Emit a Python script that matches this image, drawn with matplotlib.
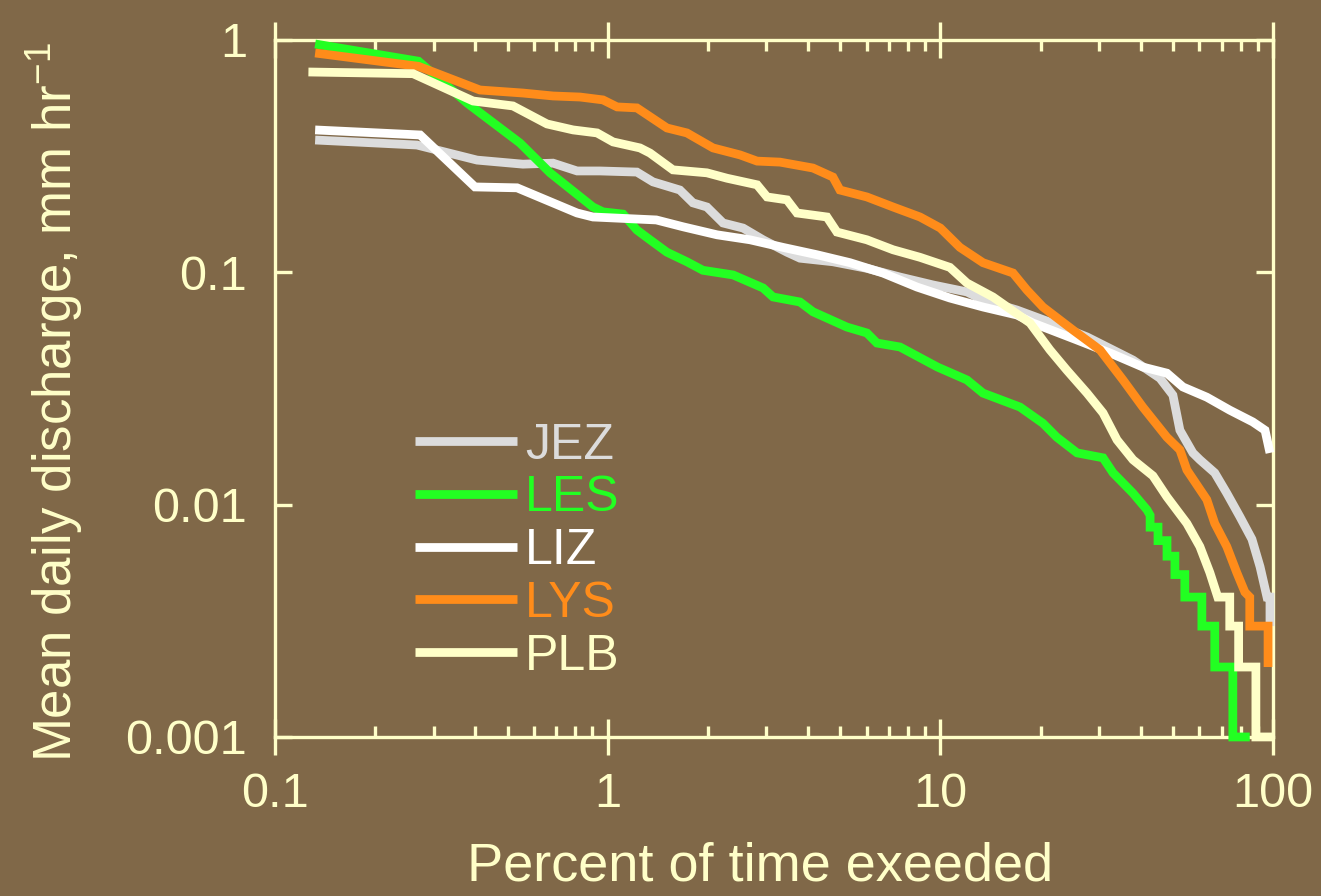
import matplotlib
matplotlib.use('Agg')
import matplotlib.pyplot as plt
from matplotlib.ticker import NullLocator, NullFormatter

plt.rcParams['font.family'] = ['Liberation Sans', 'DejaVu Sans']
plt.rcParams['mathtext.default'] = 'regular'

BG = '#806848'
CREAM = '#FFFFC8'

# percent of time exceeded / mean daily discharge (mm/hr)
jez_x = [0.132, 0.267, 0.405, 0.556, 0.685, 0.809, 0.948, 1.224, 1.368, 1.648, 1.804, 1.987, 2.222,
         2.553, 2.931, 3.459, 3.784, 4.753, 6.013, 7.56, 9.506, 12.02, 13.43, 16.99, 21.33, 27.59,
         37.93, 45.71, 50.0, 52.48, 57.41, 60.26, 66.8, 72.6, 79.4, 86.4, 91.4, 95.9, 97.9, 97.9]
jez_y = [0.371, 0.353, 0.304, 0.292, 0.295, 0.273, 0.273, 0.270, 0.245, 0.226, 0.199, 0.191, 0.163,
         0.155, 0.138, 0.122, 0.115, 0.111, 0.104, 0.0954, 0.0882, 0.0823, 0.076, 0.0688, 0.061, 0.0527,
         0.0419, 0.0350, 0.0296, 0.0209, 0.0167, 0.0156, 0.0137, 0.0112, 0.0089, 0.0071, 0.0054,
         0.0040, 0.0040, 0.0030]

les_x = [0.132, 0.27, 0.378, 0.545, 0.671, 0.903, 0.968, 1.112, 1.224, 1.34, 1.507, 1.73, 1.933,
         2.382, 2.931, 3.141, 3.784, 4.141, 5.238, 6.013, 6.446, 7.56, 9.8, 12.02, 13.43, 17.35,
         20.33, 22.39, 25.76, 30.83, 33.04, 37.93, 41.78, 42.7, 42.7, 45.1, 45.1, 48.0, 48.0, 50.7,
         50.7, 54.3, 54.3, 61.1, 61.1, 66.8, 66.8, 75.7, 75.7, 85.1]
les_y = [0.961, 0.81, 0.535, 0.360, 0.268, 0.191, 0.182, 0.178, 0.152, 0.138, 0.122, 0.111, 0.102,
         0.0974, 0.0856, 0.0783, 0.0745, 0.0676, 0.0581, 0.0548, 0.0496, 0.0477, 0.0391, 0.0344,
         0.0302, 0.0263, 0.0224, 0.0195, 0.0167, 0.0159, 0.0137, 0.0112, 0.0095, 0.009, 0.008,
         0.008, 0.007, 0.007, 0.006, 0.006, 0.005, 0.005, 0.004, 0.004, 0.003, 0.003, 0.002,
         0.002, 0.001, 0.001]

liz_x = [0.132, 0.273, 0.399, 0.534, 0.809, 0.903, 1.4, 1.684, 2.131, 2.679, 3.365, 4.256, 5.346,
         6.715, 8.505, 10.68, 13.43, 16.99, 18.97, 25.76, 32.3, 40.6, 47.97, 53.58, 63.24, 74.13,
         86.9, 94.6, 97.9]
liz_y = [0.410, 0.390, 0.233, 0.231, 0.180, 0.173, 0.168, 0.157, 0.145, 0.138, 0.128, 0.119, 0.110,
         0.0993, 0.0864, 0.0775, 0.0709, 0.0655, 0.0605, 0.0511, 0.045, 0.0391, 0.0368, 0.0321,
         0.029, 0.0255, 0.0227, 0.0209, 0.0167]

lys_x = [0.132, 0.27, 0.413, 0.556, 0.685, 0.826, 0.968, 1.067, 1.224, 1.507, 1.73, 2.073, 2.5,
         2.812, 3.296, 4.141, 4.753, 4.99, 6.013, 7.208, 8.685, 10.0, 11.45, 13.43, 16.53, 18.2,
         20.33, 25.05, 30.2, 35.4, 40.6, 47.97, 52.48, 55.08, 63.24, 66.8, 72.6, 77.8, 82.3, 85.1,
         85.1, 96.6, 96.6]
lys_y = [0.879, 0.77, 0.609, 0.591, 0.574, 0.568, 0.552, 0.515, 0.510, 0.418, 0.398, 0.343, 0.320,
         0.301, 0.298, 0.281, 0.257, 0.226, 0.211, 0.191, 0.173, 0.155, 0.128, 0.110, 0.0993,
         0.0839, 0.0709, 0.0564, 0.0463, 0.0344, 0.0263, 0.0195, 0.0172, 0.0141, 0.0105, 0.0083,
         0.0066, 0.0051, 0.0042, 0.004, 0.003, 0.003, 0.002]

plb_x = [0.126, 0.26, 0.394, 0.519, 0.657, 0.787, 0.929, 1.038, 1.25, 1.34, 1.571, 1.987, 2.284,
         2.812, 3.013, 3.459, 3.707, 4.561, 4.887, 6.013, 7.208, 8.685, 10.68, 12.02, 14.39, 18.6,
         21.33, 24.0, 27.59, 30.83, 33.96, 37.93, 43.55, 47.97, 55.08, 60.26, 64.57, 68.2, 74.1,
         74.1, 78.8, 78.8, 88.8, 88.8, 100]
plb_y = [0.728, 0.716, 0.546, 0.520, 0.435, 0.410, 0.398, 0.364, 0.343, 0.326, 0.276, 0.268, 0.254,
         0.238, 0.211, 0.205, 0.180, 0.173, 0.149, 0.138, 0.125, 0.116, 0.105, 0.0899, 0.0783,
         0.0605, 0.0464, 0.0379, 0.0302, 0.0248, 0.019, 0.0156, 0.0133, 0.0108, 0.0083, 0.0066,
         0.0051, 0.004, 0.004, 0.003, 0.003, 0.002, 0.002, 0.001, 0.001]

sites = ['JEZ', 'LES', 'LIZ', 'LYS', 'PLB']
colors = ['#DCDCDC', '#22FF22', '#FFFFFF', '#FF8C1A', CREAM]
xs = [jez_x, les_x, liz_x, lys_x, plb_x]
ys = [jez_y, les_y, liz_y, lys_y, plb_y]

x_ticks = [0.1, 1, 10, 100]
x_labels = ['0.1', '1', '10', '100']
y_ticks = [0.001, 0.01, 0.1, 1]
y_labels = ['0.001', '0.01', '0.1', '1']

fig = plt.figure(figsize=(13.21, 8.96), dpi=100, facecolor=BG)
ax = fig.add_axes([0.2082, 0.1775, 0.7555, 0.7779], facecolor=BG)

for name, c, x, y in zip(sites, colors, xs, ys):
    ax.plot(x, y, color=c, lw=6.3, label=name, solid_capstyle='butt',
            solid_joinstyle='miter', clip_on=False, zorder=5)

ax.set_xscale('log')
ax.set_yscale('log')
ax.set_xlim(0.1, 100)
ax.set_ylim(0.001, 1)

ax.set_xticks(x_ticks, x_labels, fontsize=35)
ax.set_yticks(y_ticks, y_labels, fontsize=35)
ax.xaxis.set_minor_formatter(NullFormatter())
ax.yaxis.set_minor_locator(NullLocator())

for s in ax.spines.values():
    s.set_color(CREAM)
    s.set_linewidth(2.4)

ax.tick_params(axis='x', which='major', direction='inout', length=26, width=2.4,
               top=True, bottom=True, colors=CREAM, pad=12)
ax.tick_params(axis='x', which='minor', direction='in', length=8, width=2.4,
               top=True, bottom=True, colors=CREAM)
ax.tick_params(axis='y', which='major', direction='in', length=12.5, width=2.4,
               left=True, right=True, colors=CREAM, pad=20)

ax.set_xlabel('Percent of time exeeded', fontsize=39, color=CREAM)
ax.xaxis.set_label_coords(0.486, -0.150)
ax.set_ylabel('Mean daily discharge, mm hr$^{-1}$', fontsize=38, color=CREAM)
ax.yaxis.set_label_coords(-0.190, 0.48)

leg = ax.legend(loc='upper left', bbox_to_anchor=(0.140, 0.451), frameon=False,
                fontsize=36, labelcolor='linecolor', handlelength=2.04,
                handletextpad=0.16, labelspacing=0.135, borderpad=0, borderaxespad=0)

fig.savefig('out.png', dpi=100, facecolor=BG)
